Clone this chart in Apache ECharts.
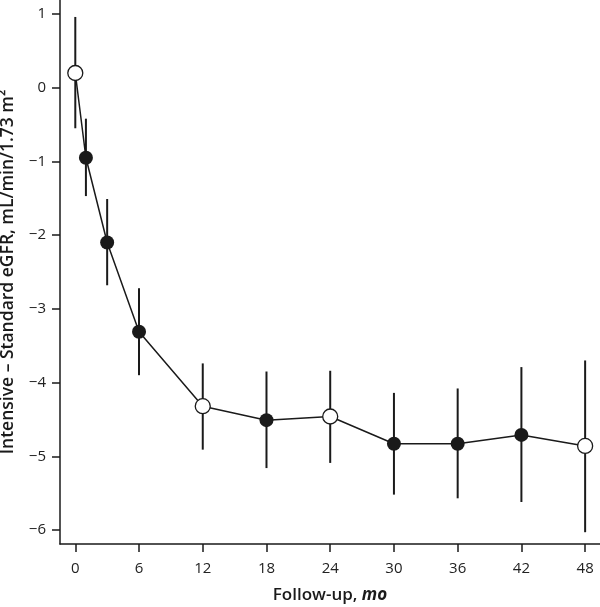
<!DOCTYPE html>
<html>
<head>
<meta charset="utf-8">
<script src="https://cdn.jsdelivr.net/npm/echarts@6/dist/echarts.min.js"></script>
<style>
  html, body { margin: 0; padding: 0; background: #fff; }
  #chart { width: 600px; height: 607px; }
</style>
</head>
<body>
<div id="chart"></div>
<script>
// follow-up month, difference in eGFR and 95% CI
const months = [0, 1, 3, 6, 12, 18, 24, 30, 36, 42, 48];
const diffs = [0.2, -0.95, -2.1, -3.31, -4.32, -4.51, -4.46, -4.83, -4.83, -4.71, -4.86];
const lower = [-0.55, -1.47, -2.68, -3.9, -4.91, -5.16, -5.09, -5.52, -5.57, -5.62, -6.03];
const upper = [0.96, -0.42, -1.51, -2.72, -3.74, -3.85, -3.84, -4.14, -4.08, -3.79, -3.7];
const openPoint = [true, false, false, false, true, false, true, false, false, false, true];
const xTicks = [0, 6, 12, 18, 24, 30, 36, 42, 48];
const yTicks = [-6, -5, -4, -3, -2, -1, 0, 1];

const chart = echarts.init(document.getElementById("chart"));
const ink = "#1a1a1a";
const font = "'Open Sans', 'DejaVu Sans', sans-serif";

const points = months.map((m, i) => [m, diffs[i]]);
const bars = months.map((m, i) => [m, lower[i], upper[i]]);
const filled = points.filter((p, i) => !openPoint[i]);
const open = points.filter((p, i) => openPoint[i]);

const option = {
  animation: false,
  grid: { left: 60, right: 0, top: 0, bottom: 63, outerBoundsMode: "none", containLabel: false },
  xAxis: {
    type: "value",
    min: -1.44,
    max: 49.4,
    name: "{b|Follow-up, }{i|mo}",
    nameLocation: "middle",
    nameGap: 43,
    nameTextStyle: {
      rich: {
        b: { fontFamily: font, fontSize: 17, fontWeight: 600, color: ink },
        i: { fontFamily: font, fontSize: 17, fontWeight: 700, fontStyle: "italic", color: ink }
      }
    },
    axisLine: { show: true, onZero: false, lineStyle: { color: ink, width: 1.5 } },
    axisTick: { show: true, customValues: xTicks, length: 8, lineStyle: { color: ink, width: 1.5 } },
    axisLabel: {
      customValues: xTicks,
      margin: 17,
      fontFamily: font,
      fontSize: 15,
      color: "#222"
    },
    splitLine: { show: false }
  },
  yAxis: {
    type: "value",
    min: -6.19,
    max: 1.19,
    name: "Intensive \u2013 Standard eGFR, mL/min/1.73 m\u00b2",
    nameLocation: "middle",
    nameGap: 43,
    nameTextStyle: { fontFamily: font, fontSize: 17.5, fontWeight: 600, color: ink },
    axisLine: { show: true, onZero: false, lineStyle: { color: ink, width: 1.5 } },
    axisTick: { show: true, customValues: yTicks, length: 8, lineStyle: { color: ink, width: 1.5 } },
    axisLabel: {
      customValues: yTicks,
      margin: 14,
      fontFamily: font,
      fontSize: 15,
      color: "#222",
      formatter: v => (v < 0 ? "\u2212" + Math.abs(v) : String(v))
    },
    splitLine: { show: false }
  },
  series: [
    {
      type: "custom",
      data: bars,
      z: 1,
      renderItem: function (params, api) {
        const top = api.coord([api.value(0), api.value(2)]);
        const bot = api.coord([api.value(0), api.value(1)]);
        return {
          type: "line",
          shape: { x1: top[0], y1: top[1], x2: bot[0], y2: bot[1] },
          style: { stroke: ink, lineWidth: 2 }
        };
      }
    },
    {
      type: "line",
      data: points,
      showSymbol: false,
      z: 2,
      lineStyle: { color: ink, width: 1.5 }
    },
    {
      type: "scatter",
      data: filled,
      symbolSize: 14,
      z: 3,
      itemStyle: { color: ink, opacity: 1 }
    },
    {
      type: "scatter",
      data: open,
      symbolSize: 15,
      z: 3,
      itemStyle: { color: "#fff", borderColor: ink, borderWidth: 1.3, opacity: 1 }
    }
  ]
};

chart.setOption(option);
</script>
</body>
</html>
